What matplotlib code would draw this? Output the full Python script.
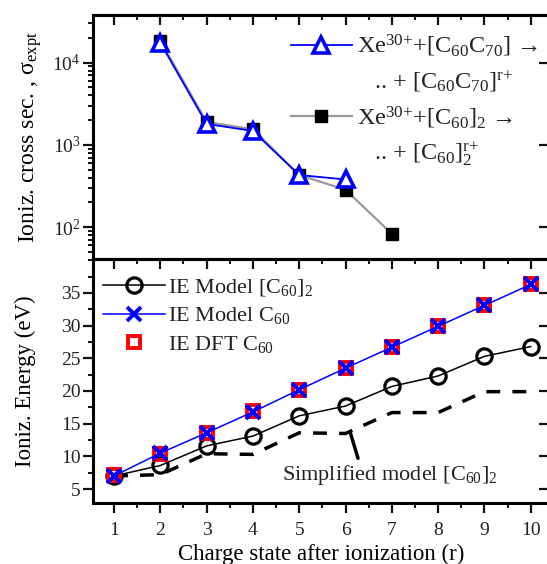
import matplotlib
matplotlib.use('Agg')
import matplotlib.pyplot as plt
from matplotlib.lines import Line2D
from matplotlib.ticker import MultipleLocator, NullLocator, LogLocator, NullFormatter, FixedLocator

plt.rcParams['font.family'] = ['Liberation Serif', 'DejaVu Serif']
plt.rcParams['mathtext.fontset'] = 'custom'
plt.rcParams['mathtext.rm'] = 'Liberation Serif'
plt.rcParams['mathtext.it'] = 'Liberation Serif:italic'
plt.rcParams['mathtext.bf'] = 'Liberation Serif:bold'
plt.rcParams['text.color'] = '#222222'
plt.rcParams['xtick.color'] = '#111111'
plt.rcParams['ytick.color'] = '#111111'
plt.rcParams['xtick.labelcolor'] = '#222222'
plt.rcParams['ytick.labelcolor'] = '#222222'

# top panel: measured ionization cross sections
r_c60c70 = [2, 3, 4, 5, 6]
sigma_c60c70 = [17500, 1800, 1480, 430, 380]
r_dimer = [2, 3, 4, 5, 6, 7]
sigma_dimer = [18500, 1900, 1550, 430, 285, 83]

# bottom panel: ionization energies (eV)
charge = [1, 2, 3, 4, 5, 6, 7, 8, 9, 10]
ie_model_dimer = [7.0, 8.6, 11.6, 13.1, 16.2, 17.7, 20.7, 22.3, 25.3, 26.8]
ie_model_c60 = [7.0, 10.5, 13.6, 16.8, 20.2, 23.5, 26.7, 29.9, 33.1, 36.3]
ie_dft_c60 = [7.1, 10.4, 13.6, 16.9, 20.2, 23.5, 26.7, 30.0, 33.1, 36.3]
ie_simple_dimer = [7.0, 7.2, 10.4, 10.3, 13.6, 13.5, 16.7, 16.7, 19.9, 19.9]
ie_ticks = [5, 10, 15, 20, 25, 30, 35]

W, H = 547, 564
fig = plt.figure(figsize=(W / 100, H / 100), dpi=100)

left, right = 93, 549
ax1 = fig.add_axes([left / W, (H - 259) / H, (right - left) / W, 244 / H])
ax2 = fig.add_axes([left / W, (H - 503) / H, (right - left) / W, 244 / H])

xlim = (0.546, 10.395)
SPINE = 2.2


def style_axes(ax):
    for s in ax.spines.values():
        s.set_linewidth(SPINE)
    ax.tick_params(which='major', length=7, width=1.6, labelsize=14)
    ax.tick_params(which='minor', length=3.5, width=1.4)
    ax.tick_params(axis='y', pad=2)
    ax.tick_params(axis='x', pad=7)


def inner_ticks(ax, log=False):
    sec = ax.secondary_yaxis('right')
    if not log:
        sec.yaxis.set_major_locator(FixedLocator(ie_ticks))
    sec.yaxis.set_minor_locator(NullLocator())
    sec.tick_params(direction='in', length=7, width=1.6, labelright=False)
    sec.spines['right'].set_linewidth(SPINE)
    secx = ax.secondary_xaxis('top')
    secx.xaxis.set_major_locator(MultipleLocator(1))
    secx.xaxis.set_minor_locator(MultipleLocator(0.5))
    secx.tick_params(which='major', direction='in', length=7, width=1.6, labeltop=False)
    secx.tick_params(which='minor', direction='in', length=3.5, width=1.4)
    secx.spines['top'].set_linewidth(SPINE)


# ---- top panel
ax1.plot(r_dimer, sigma_dimer, color='#999999', lw=1.6, marker='s', ms=8.5,
         mfc='black', mec='black', zorder=2)
ax1.plot(r_c60c70, sigma_c60c70, color='#0000ff', lw=1.3, marker='^', ms=11,
         mfc='white', mec='#0000ff', mew=2.6, zorder=3)
ax1.set_yscale('log')
ax1.set_xlim(xlim)
ax1.set_ylim(41, 38000)
style_axes(ax1)
ax1.yaxis.set_major_locator(LogLocator(base=10, numticks=10))
ax1.yaxis.set_minor_locator(LogLocator(base=10, subs=range(2, 10), numticks=10))
ax1.yaxis.set_minor_formatter(NullFormatter())
ax1.tick_params(axis='y', which='both', direction='out', right=False)
ax1.tick_params(axis='x', which='both', bottom=False, labelbottom=False, top=False)
inner_ticks(ax1, log=True)

ax1.set_ylabel('Ioniz. cross sec. , σ$_{\\mathrm{expt}}$', fontsize=17)
ax1.yaxis.set_label_coords(-0.108, 0.5)

blank = Line2D([], [], linestyle='none')
h_tri = Line2D([], [], color='#0000ff', lw=1.3, marker='^', ms=11,
               mfc='white', mec='#0000ff', mew=2.6)
h_sq = Line2D([], [], color='#999999', lw=1.6, marker='s', ms=8.5,
              mfc='black', mec='black')
labels_top = ['Xe$^{30{+}}$+[C$_{60}$C$_{70}$] →',
              '$\\quad$.. + [C$_{60}$C$_{70}$]$^{\\mathrm{r{+}}}$',
              'Xe$^{30{+}}$+[C$_{60}$]$_2$ →',
              '$\\quad$.. + [C$_{60}$]$_2^{\\mathrm{r{+}}}$']
ax1.legend([h_tri, blank, h_sq, blank], labels_top, loc='upper left',
           bbox_to_anchor=(0.434, 0.925), frameon=False, borderpad=0,
           borderaxespad=0, handlelength=2.5, handletextpad=0.22,
           labelspacing=0.42, prop={'size': 17.5})

# ---- bottom panel
ax2.plot(charge, ie_simple_dimer, color='black', lw=2.5, ls=(0, (4, 3.5)),
         dash_capstyle='butt', zorder=2)
ax2.plot(charge, ie_model_dimer, color='black', lw=1.1, marker='o', ms=11,
         mfc='none', mec='black', mew=2.3, zorder=3, label='IE Model [C$_{60}$]$_2$')
ax2.plot(charge, ie_dft_c60, ls='none', marker='s', ms=8, mfc='none',
         mec='#ff0000', mew=2.8, zorder=4, label='IE DFT C$_{60}$')
ax2.plot(charge, ie_model_c60, color='#0000ff', lw=1.1, marker='x', ms=10,
         mec='#0000ff', mew=2.8, zorder=5, label='IE Model C$_{60}$')
ax2.set_xlim(xlim)
ax2.set_ylim(2.86, 40.2)
style_axes(ax2)
ax2.xaxis.set_major_locator(MultipleLocator(1))
ax2.xaxis.set_minor_locator(MultipleLocator(0.5))
ax2.yaxis.set_major_locator(FixedLocator(ie_ticks))
ax2.yaxis.set_minor_locator(MultipleLocator(2.5))
ax2.tick_params(which='both', direction='out', top=False, right=False)
inner_ticks(ax2)

ax2.set_ylabel('Ioniz. Energy (eV)', fontsize=16.5)
ax2.yaxis.set_label_coords(-0.125, 0.5)
ax2.set_xlabel('Charge state after ionization (r)', fontsize=16.5, labelpad=3)

handles, labels = ax2.get_legend_handles_labels()
order = [0, 2, 1]
ax2.legend([handles[i] for i in order], [labels[i] for i in order],
           loc='upper left', bbox_to_anchor=(0.022, 0.925), frameon=False,
           borderpad=0, borderaxespad=0, handlelength=2.8, handletextpad=0.12,
           labelspacing=0.32, prop={'size': 16})

# label and pointer for the simplified model curve
ax2.text(6.96, 7.1, 'Simplified model [C$_{60}$]$_2$', fontsize=16,
         ha='center', va='center')
ax2.annotate('', xy=(6.1, 13.7), xytext=(6.27, 9.7),
             arrowprops=dict(arrowstyle='-', lw=2.5, color='black',
                             shrinkA=0, shrinkB=0))

fig.savefig('out.png', dpi=100)
